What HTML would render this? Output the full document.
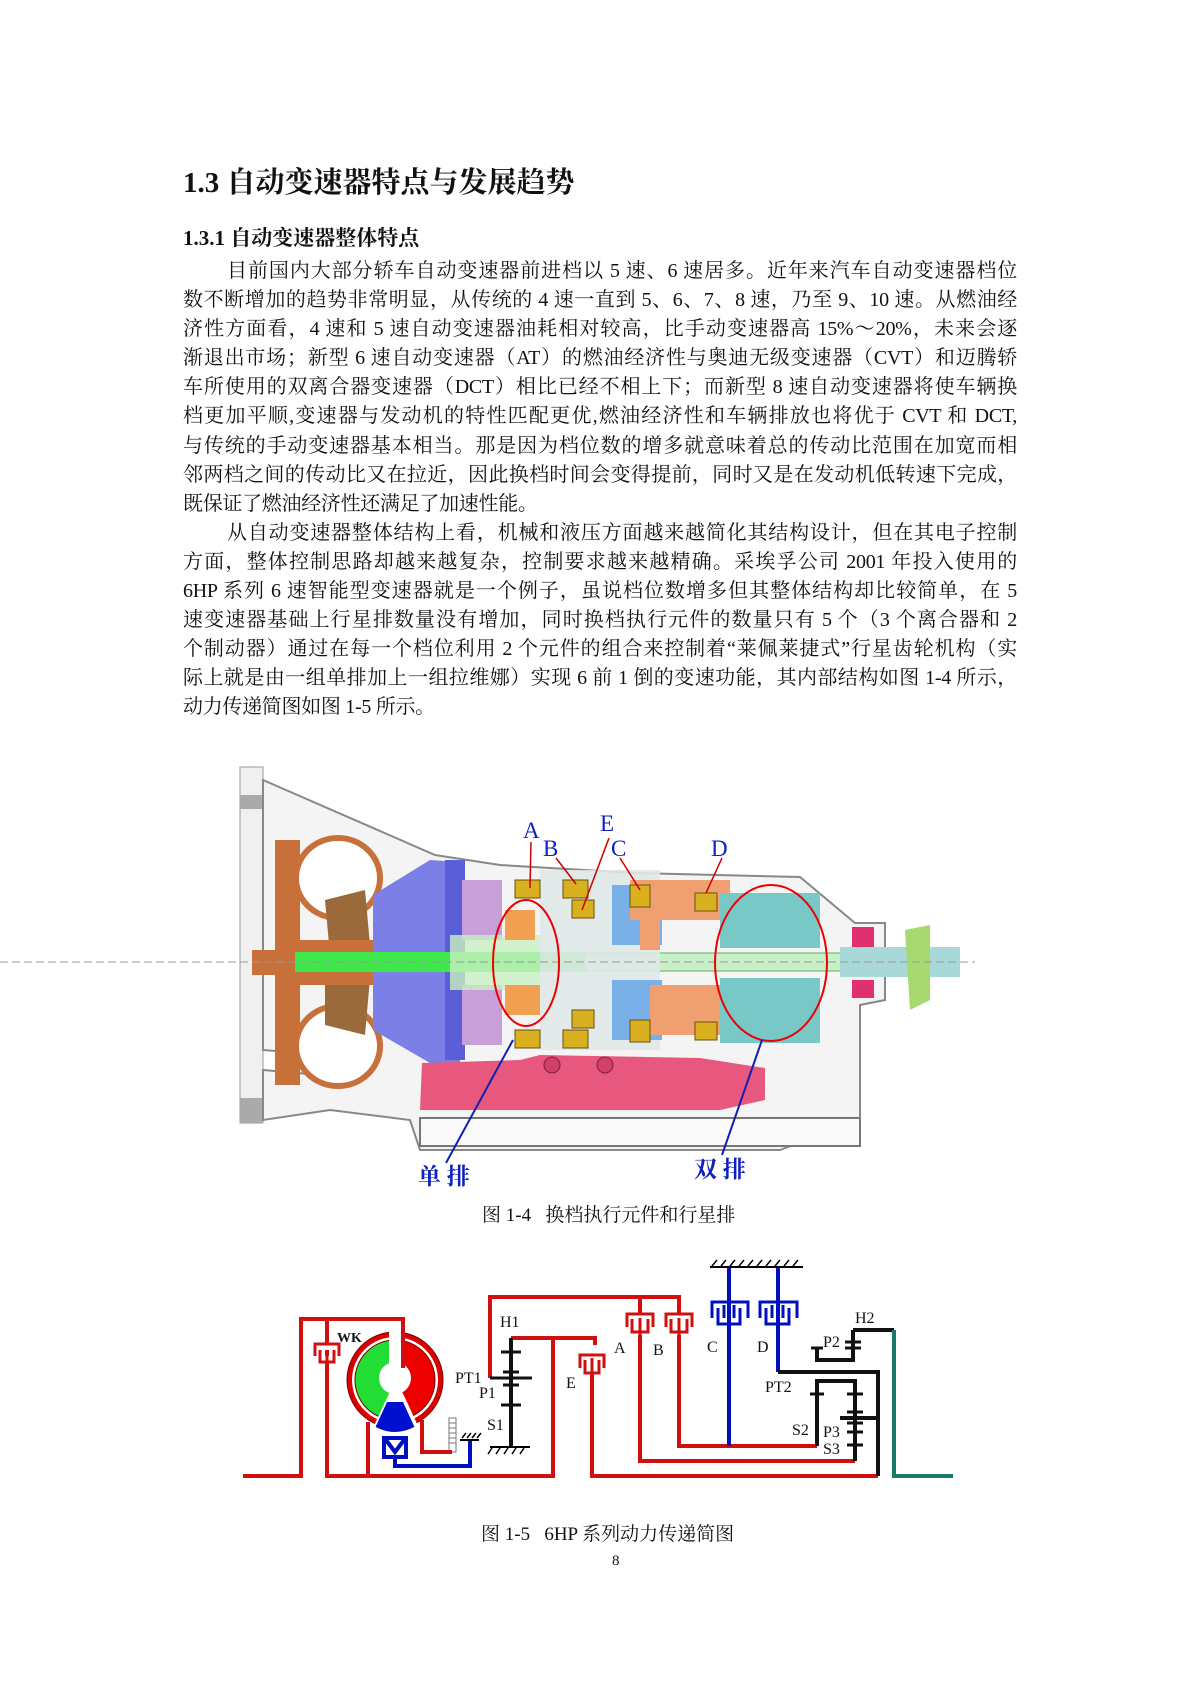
<!DOCTYPE html>
<html><head><meta charset="utf-8"><style>
html,body{margin:0;padding:0;background:#fff;}
body{width:1199px;height:1696px;position:relative;overflow:hidden;font-family:"Liberation Serif","Noto Serif CJK SC",serif;color:#111;}
.t{position:absolute;white-space:nowrap;}
#para{position:absolute;left:183px;top:257px;width:834px;font-size:20px;line-height:29.1px;letter-spacing:-0.3px;}
#para div{text-align:justify;text-align-last:justify;height:29.1px;}
#para div.last{text-align-last:left;}
#para div.ind{padding-left:44px;}
svg{position:absolute;left:0;top:0;}
</style></head><body>
<svg width="1199" height="1696" viewBox="0 0 1199 1696">
<g>
<rect x="240" y="767" width="23" height="356" fill="#f0f0f0" stroke="#999"/>
<rect x="240" y="795" width="23" height="14" fill="#aaa"/>
<rect x="240" y="1098" width="23" height="25" fill="#aaa"/>
<polygon points="263,780 435,855 500,865 635,873 800,877 855,923 885,923 885,1000 860,1005 860,1120 780,1150 420,1150 410,1120 330,1110 263,1120 263,1070 320,1075 360,1058 263,1050" fill="#f4f4f4" stroke="#888" stroke-width="2"/>
<rect x="420" y="1118" width="440" height="28" fill="#fafafa" stroke="#777" stroke-width="2"/>
<path d="M275 840 H300 V1085 H275 Z" fill="#c8703a"/>
<ellipse cx="338" cy="878" rx="42" ry="40" fill="#fff" stroke="#c8703a" stroke-width="6"/>
<ellipse cx="338" cy="1046" rx="42" ry="40" fill="#fff" stroke="#c8703a" stroke-width="6"/>
<polygon points="325,900 365,890 370,945 330,955" fill="#9a6a3a"/>
<polygon points="325,970 370,978 365,1035 325,1025" fill="#9a6a3a"/>
<rect x="280" y="940" width="100" height="45" fill="#c8703a"/>
<rect x="252" y="950" width="25" height="25" fill="#c8703a"/>
<polygon points="373,895 430,860 460,862 460,1063 430,1063 373,1030" fill="#7b7fe6"/>
<rect x="445" y="860" width="20" height="200" fill="#5a5ed8"/>
<rect x="462" y="880" width="40" height="60" fill="#c8a0d8"/>
<rect x="462" y="985" width="40" height="60" fill="#c8a0d8"/>
<rect x="295" y="952" width="290" height="20" fill="#3fe84a"/>
<rect x="450" y="935" width="90" height="55" fill="#c7f0c0" opacity=".8"/>
<rect x="585" y="953" width="280" height="18" fill="#c8f0c8" stroke="#6a6" stroke-width="1"/>
<rect x="505" y="910" width="30" height="30" fill="#f0a050"/>
<rect x="505" y="985" width="35" height="30" fill="#f0a050"/>
<rect x="540" y="870" width="120" height="180" fill="#dfe8e8" opacity=".9"/>
<rect x="612" y="885" width="50" height="60" fill="#7ab0e8"/>
<rect x="612" y="980" width="50" height="60" fill="#7ab0e8"/>
<rect x="630" y="880" width="100" height="40" fill="#f0a070"/>
<rect x="640" y="920" width="20" height="30" fill="#f0a070"/>
<rect x="650" y="985" width="70" height="50" fill="#f0a070"/>
<rect x="720" y="893" width="100" height="55" fill="#79c8c8"/>
<rect x="720" y="978" width="100" height="65" fill="#79c8c8"/>
<rect x="840" y="947" width="120" height="30" fill="#a8d8d8"/>
<rect x="852" y="927" width="22" height="20" fill="#e03070"/>
<rect x="852" y="980" width="22" height="18" fill="#e03070"/>
<polygon points="905,930 930,925 930,1000 910,1010" fill="#a8d870"/>
<g fill="#d8b020" stroke="#6a5010" stroke-width="1">
<rect x="515" y="880" width="25" height="18"/><rect x="563" y="880" width="25" height="18"/>
<rect x="572" y="900" width="22" height="18"/><rect x="630" y="885" width="20" height="22"/>
<rect x="695" y="893" width="22" height="18"/><rect x="515" y="1030" width="25" height="18"/>
<rect x="563" y="1030" width="25" height="18"/><rect x="572" y="1010" width="22" height="18"/>
<rect x="630" y="1020" width="20" height="22"/><rect x="695" y="1022" width="22" height="18"/>
</g>
<polygon points="422,1063 520,1060 540,1055 700,1058 765,1068 765,1100 720,1110 420,1110" fill="#e8587e"/>
<circle cx="552" cy="1065" r="8" fill="#d04068" stroke="#802040"/>
<circle cx="605" cy="1065" r="8" fill="#d04068" stroke="#802040"/>
<line x1="0" y1="962" x2="975" y2="962" stroke="#999" stroke-width="1" stroke-dasharray="8,4"/>
<ellipse cx="526" cy="963" rx="33" ry="63" fill="none" stroke="#e00" stroke-width="2"/>
<ellipse cx="771" cy="963" rx="56" ry="78" fill="none" stroke="#e00" stroke-width="2"/>
<g stroke="#c00" stroke-width="1.5" fill="none">
<line x1="531" y1="842" x2="530" y2="888"/><line x1="556" y1="858" x2="576" y2="884"/>
<line x1="609" y1="838" x2="582" y2="910"/><line x1="620" y1="858" x2="640" y2="890"/>
<line x1="722" y1="858" x2="706" y2="893"/>
</g>
<g stroke="#1020b0" stroke-width="2" fill="none">
<line x1="446" y1="1163" x2="513" y2="1040"/><line x1="722" y1="1155" x2="762" y2="1040"/>
</g>
<g font-family="Liberation Serif, serif" font-size="23" fill="#1020c0">
<text x="523" y="838">A</text><text x="543" y="856">B</text><text x="600" y="831">E</text>
<text x="611" y="856">C</text><text x="711" y="856">D</text>
</g>
<g font-family="Liberation Serif, Noto Serif CJK SC, serif" font-size="23" font-weight="bold" fill="#1020c0">
<text x="418" y="1184">单 排</text><text x="694" y="1177">双 排</text>
</g>
</g>

<g fill="none" stroke-linejoin="miter">
<circle cx="395" cy="1380" r="48" fill="#d00" stroke="#700" stroke-width="1"/>
<circle cx="395" cy="1380" r="43" fill="#fff"/>
<path d="M395 1380 L395 1340 A40 40 0 0 0 395 1420 Z" fill="#22dd33" stroke="#700" stroke-width="1"/>
<path d="M395 1380 L395 1340 A40 40 0 0 1 395 1420 Z" fill="#e00" stroke="#700" stroke-width="1"/>
<circle cx="395" cy="1378" r="16" fill="#fff"/>
<rect x="389" y="1330" width="12" height="40" fill="#fff"/>
<polygon points="393,1385 372,1430 420,1430 399,1385" fill="#fff"/>
<polygon points="387,1402 403,1402 414,1426 376,1426" fill="#0010d0"/>
<path d="M376 1426 Q395 1436 414 1426" fill="#0010d0" stroke="#0010d0" stroke-width="2"/>
<g stroke="#0010c0" stroke-width="4">
<rect x="384" y="1438" width="22" height="19"/>
<path d="M386 1440 L395 1452 L404 1440"/>
<path d="M395 1457 V1466 H470 V1440"/>
</g>
<path d="M460 1440 H479" stroke="#000" stroke-width="2"/>
<path d="M462 1438 l4 -5 M467 1438 l4 -5 M472 1438 l4 -5 M477 1438 l4 -5" stroke="#000" stroke-width="1.5"/>
<rect x="449" y="1418" width="7" height="34" fill="#fff" stroke="#777" stroke-width="1"/>
<path d="M449 1423 h7 M449 1428 h7 M449 1433 h7 M449 1438 h7 M449 1443 h7" stroke="#777" stroke-width="1"/>
<g stroke="#d01010" stroke-width="4">
<path d="M243 1476 H301 V1319 H403 V1368"/>
<path d="M327 1319 V1476 H553 V1338"/>
<path d="M368 1422 V1476"/>
<path d="M422 1420 V1452 H452"/>
<path d="M511 1338 H595 V1345"/>
<path d="M592 1368 V1476 H878"/>
<path d="M490 1378 V1297 H679 V1313"/>
<path d="M640 1297 V1313"/>
<path d="M640 1335 V1461 H855"/>
<path d="M679 1335 V1446 H817"/>
</g>
<g stroke="#d01010" stroke-width="3" fill="#fff">
<path d="M315 1356 V1344 H339 V1356 M320 1350 V1362 H334 V1350 M327 1350 V1370"/>
<path d="M580 1368 V1355 H604 V1368 M585 1360 V1373 H599 V1360 M592 1358 V1376"/>
<path d="M627 1327 V1314 H653 V1327 M632 1319 V1332 H648 V1319 M640 1318 V1337"/>
<path d="M666 1327 V1314 H692 V1327 M671 1319 V1332 H687 V1319 M679 1318 V1337"/>
</g>
<g stroke="#0010c0" stroke-width="4">
<path d="M729 1267 V1446"/>
<path d="M778 1267 V1372"/>
</g>
<g stroke="#0010c0" stroke-width="3">
<path d="M712 1318 V1302 H748 V1318 M718 1308 V1324 H740 V1308 M724 1305 V1318 M734 1305 V1318"/>
<path d="M760 1318 V1302 H797 V1318 M766 1308 V1324 H789 V1308 M772 1305 V1318 M783 1305 V1318"/>
</g>
<path d="M710 1267 H803" stroke="#000" stroke-width="2"/>
<path d="M712 1266 l5 -6 M721 1266 l5 -6 M730 1266 l5 -6 M739 1266 l5 -6 M748 1266 l5 -6 M757 1266 l5 -6 M766 1266 l5 -6 M775 1266 l5 -6 M784 1266 l5 -6 M793 1266 l5 -6" stroke="#000" stroke-width="1.5"/>
<g stroke="#111" stroke-width="4">
<path d="M511 1338 V1447"/>
<path d="M778 1372 H878 V1476"/>
<path d="M853 1330 H894"/>
<path d="M853 1330 V1360 H817 V1348"/>
<path d="M817 1446 V1381 H855 V1461"/>
<path d="M840 1418 H878"/>
</g>
<g stroke="#111" stroke-width="3">
<path d="M490 1378 H532"/>
<path d="M501 1352 H521 M503 1372 H519 M503 1385 H519 M501 1405 H521"/>
<path d="M845 1342 H861 M845 1348 H861 M811 1348 H823"/>
<path d="M810 1394 H824 M847 1394 H863 M847 1412 H863 M847 1423 H863 M847 1432 H863 M847 1445 H863"/>
</g>
<path d="M490 1447 H530" stroke="#000" stroke-width="2"/>
<path d="M492 1448 l-4 6 M500 1448 l-4 6 M508 1448 l-4 6 M516 1448 l-4 6 M524 1448 l-4 6" stroke="#000" stroke-width="1.5"/>
<path d="M894 1330 V1476 H953" stroke="#1a7a6a" stroke-width="4"/>
</g>
<g font-family="Liberation Serif, serif" font-size="16" fill="#111">
<text x="337" y="1342" font-weight="bold" font-size="14">WK</text>
<text x="500" y="1327">H1</text><text x="455" y="1383">PT1</text><text x="479" y="1398">P1</text>
<text x="487" y="1430">S1</text><text x="566" y="1388">E</text>
<text x="614" y="1353">A</text><text x="653" y="1355">B</text><text x="707" y="1352">C</text><text x="757" y="1352">D</text>
<text x="855" y="1323">H2</text><text x="823" y="1347">P2</text><text x="765" y="1392">PT2</text>
<text x="792" y="1435">S2</text><text x="823" y="1437">P3</text><text x="823" y="1454">S3</text>
</g>
</svg>

<div class="t" style="left:183px;top:160px;font-size:29px;font-weight:bold;">1.3 自动变速器特点与发展趋势</div>
<div class="t" style="left:183px;top:222px;font-size:21px;font-weight:bold;">1.3.1 自动变速器整体特点</div>
<div id="para">
<div class="ind">目前国内大部分轿车自动变速器前进档以 5 速、6 速居多。近年来汽车自动变速器档位</div>
<div>数不断增加的趋势非常明显，从传统的 4 速一直到 5、6、7、8 速，乃至 9、10 速。从燃油经</div>
<div>济性方面看，4 速和 5 速自动变速器油耗相对较高，比手动变速器高 15%～20%，未来会逐</div>
<div>渐退出市场；新型 6 速自动变速器（AT）的燃油经济性与奥迪无级变速器（CVT）和迈腾轿</div>
<div>车所使用的双离合器变速器（DCT）相比已经不相上下；而新型 8 速自动变速器将使车辆换</div>
<div>档更加平顺,变速器与发动机的特性匹配更优,燃油经济性和车辆排放也将优于 CVT 和 DCT,</div>
<div>与传统的手动变速器基本相当。那是因为档位数的增多就意味着总的传动比范围在加宽而相</div>
<div>邻两档之间的传动比又在拉近，因此换档时间会变得提前，同时又是在发动机低转速下完成，</div>
<div class="last">既保证了燃油经济性还满足了加速性能。</div>
<div class="ind">从自动变速器整体结构上看，机械和液压方面越来越简化其结构设计，但在其电子控制</div>
<div>方面，整体控制思路却越来越复杂，控制要求越来越精确。采埃孚公司 2001 年投入使用的</div>
<div>6HP 系列 6 速智能型变速器就是一个例子，虽说档位数增多但其整体结构却比较简单，在 5</div>
<div>速变速器基础上行星排数量没有增加，同时换档执行元件的数量只有 5 个（3 个离合器和 2</div>
<div>个制动器）通过在每一个档位利用 2 个元件的组合来控制着“莱佩莱捷式”行星齿轮机构（实</div>
<div>际上就是由一组单排加上一组拉维娜）实现 6 前 1 倒的变速功能，其内部结构如图 1-4 所示，</div>
<div class="last">动力传递简图如图 1-5 所示。</div>
</div>
<div class="t" style="left:482px;top:1200px;font-size:19px;">图 1-4&nbsp;&nbsp;&nbsp;换档执行元件和行星排</div>
<div class="t" style="left:481px;top:1519px;font-size:19px;">图 1-5&nbsp;&nbsp;&nbsp;6HP 系列动力传递简图</div>
<div class="t" style="left:612px;top:1553px;font-size:15px;">8</div>
</body></html>
